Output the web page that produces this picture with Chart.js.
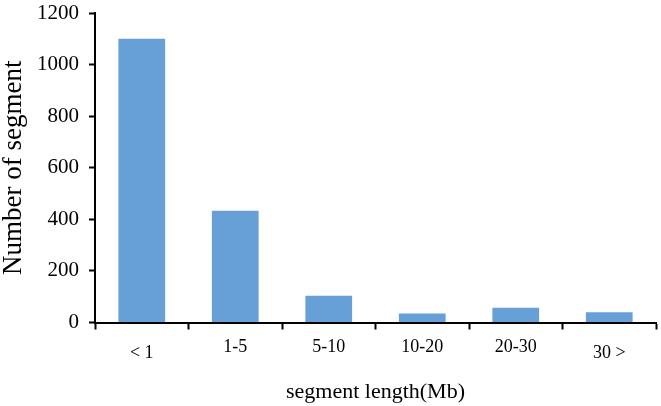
<!DOCTYPE html>
<html>
<head>
<meta charset="utf-8">
<script src="https://cdn.jsdelivr.net/npm/chart.js@4"></script>
<style>
  html, body { margin: 0; padding: 0; background: #fff; }
  #wrap { width: 661px; height: 406px; }
</style>
</head>
<body>
<div id="wrap"><canvas id="chart"></canvas></div>
<script>
// segment length classes and counts
const categories = ['< 1', '1-5', '5-10', '10-20', '20-30', '30 >'];
const segmentCounts = [1100, 433, 104, 35, 57, 40];
const yTicks = [0, 200, 400, 600, 800, 1000, 1200];

const serif = '"Liberation Serif", "Times New Roman", serif';

// the "< 1" and "30 >" labels sit a little lower in the figure
function xTickFont(ctx) {
  const label = categories[ctx.index] || '';
  const low = label.includes('<') || label.includes('>');
  return { family: serif, size: 18, lineHeight: low ? 31 / 18 : 1 };
}

new Chart(document.getElementById('chart'), {
  type: 'bar',
  data: {
    labels: categories,
    datasets: [{
      data: segmentCounts,
      backgroundColor: '#679fd7',
      borderWidth: 0,
      categoryPercentage: 1,
      barPercentage: 0.5
    }]
  },
  options: {
    responsive: true,
    maintainAspectRatio: false,
    animation: false,
    layout: { padding: { top: 0, right: 5, left: 0, bottom: 3 } },
    plugins: {
      legend: { display: false },
      tooltip: { enabled: false }
    },
    scales: {
      x: {
        grid: {
          display: true,
          drawOnChartArea: false,
          drawTicks: true,
          tickLength: 7,
          tickWidth: 2,
          tickColor: '#000'
        },
        border: { color: '#000', width: 2 },
        ticks: {
          color: '#000',
          font: xTickFont,
          padding: 8.5,
          maxRotation: 0
        },
        title: {
          display: true,
          text: 'segment length(Mb)',
          color: '#000',
          font: { family: serif, size: 22, lineHeight: 1 },
          padding: { top: 3.5, bottom: 0 }
        }
      },
      y: {
        min: 0,
        max: 1200,
        afterBuildTicks: axis => { axis.ticks = yTicks.map(v => ({ value: v })); },
        // keep the top of the plot close to the edge, as in the figure
        afterFit: axis => { axis.paddingTop = 13; },
        grid: {
          display: true,
          drawOnChartArea: false,
          drawTicks: true,
          tickLength: 6,
          tickWidth: 2,
          tickColor: '#000'
        },
        border: { color: '#000', width: 2 },
        ticks: {
          color: '#000',
          font: { family: serif, size: 21 },
          padding: 10,
          callback: v => String(v)
        },
        title: {
          display: true,
          text: 'Number of segment',
          color: '#000',
          font: { family: serif, size: 27, lineHeight: 1 },
          padding: { top: 0, bottom: 0 }
        }
      }
    }
  }
});
</script>
</body>
</html>
